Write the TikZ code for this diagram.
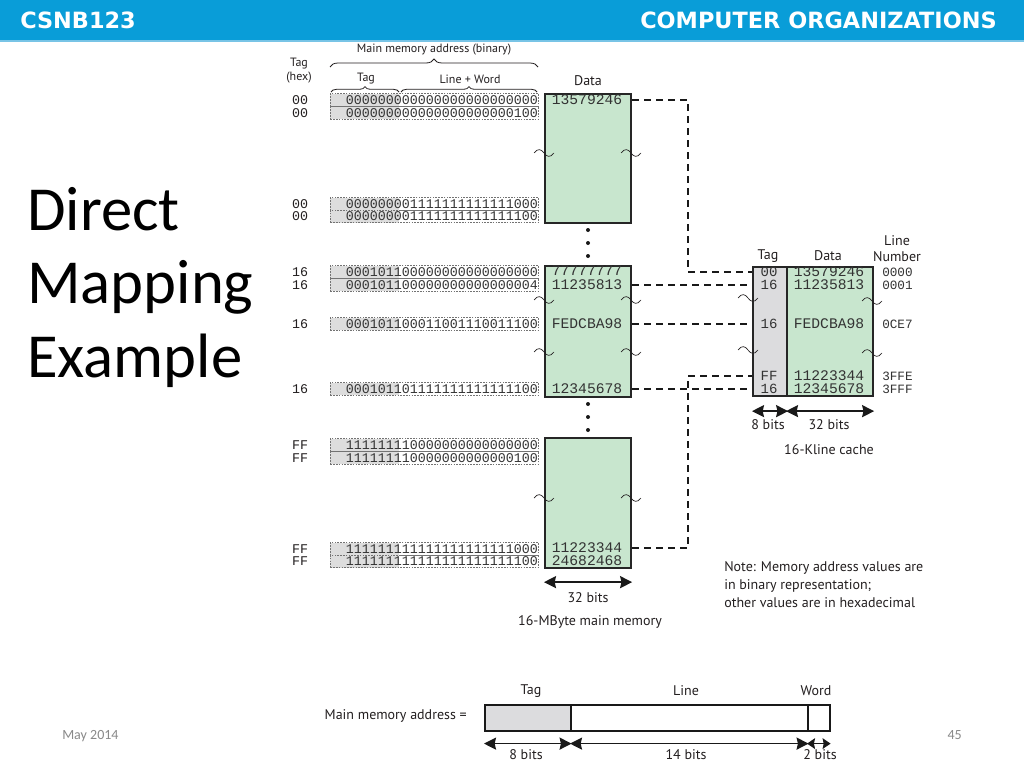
\documentclass[tikz,border=0pt]{standalone}
\usepackage{fontspec}
\setmainfont{PT Sans}
\newfontfamily\hdrfont{DejaVu Sans}
\newfontfamily\ttlfont{Carlito}
\newfontfamily\monofont{Liberation Mono}
\usetikzlibrary{arrows.meta,decorations.pathreplacing}
\definecolor{hdrblue}{RGB}{9,157,216}
\definecolor{hdrlight}{RGB}{120,196,230}
\definecolor{memgreen}{RGB}{200,230,206}
\definecolor{taggray}{RGB}{220,220,222}
\definecolor{stripgray}{RGB}{221,221,221}
\definecolor{footgray}{RGB}{137,137,137}
\definecolor{ink}{RGB}{35,31,32}
\newcommand\addrrow[4]{%
  \fill[stripgray] (330,#2-6.3) rectangle (399,#2+6.3);
  \node[addr] (#1) at (330,#2) {#4};
  \node[hexlbl] (#1h) at (300,#2) {#3};
}
\begin{document}
\begin{tikzpicture}[x=0.75pt,y=-0.75pt,
  lbl/.style={font=\fontsize{10.5}{12}\selectfont, inner sep=0pt, text=ink},
  small/.style={font=\fontsize{9}{10}\selectfont, inner sep=0pt, text=ink},
  hexlbl/.style={font=\monofont\fontsize{10}{10}\selectfont, inner sep=0pt, text=ink},
  addr/.style={draw=black!55, line width=0.5pt, dash pattern=on 1.2pt off 0.9pt,
    font=\monofont\fontsize{10}{10}\selectfont, text=black!80, inner sep=0pt,
    minimum width=156pt, minimum height=9.45pt, text width=155.5pt, align=right, anchor=west},
  val/.style={font=\monofont\fontsize{11}{11}\selectfont, inner sep=0pt, text=black!80},
  tagval/.style={font=\monofont\fontsize{10.5}{11}\selectfont, inner sep=0pt, text=black!80},
  lnval/.style={font=\monofont\fontsize{9.5}{10}\selectfont, inner sep=0pt, text=black!80, anchor=west},
  memblk/.style={draw=black!85, line width=1.6pt, fill=memgreen, minimum width=64.5pt,
    inner sep=0pt, anchor=north west},
  cacheblk/.style={draw=black!85, line width=1.6pt, minimum height=96.75pt, inner sep=0pt, anchor=north west},
  barblk/.style={draw=black!90, line width=1.2pt, minimum height=19.5pt, inner sep=0pt, anchor=north west},
  conn/.style={draw=black!90, line width=1.6pt, dash pattern=on 5.5pt off 3.5pt},
  dim/.style={{Stealth[length=9pt,width=9pt,inset=1pt]}-{Stealth[length=9pt,width=9pt,inset=1pt]}, line width=1.3pt, draw=black!90},
  dimsmall/.style={{Stealth[length=6pt,width=8pt,inset=0.8pt]}-{Stealth[length=6pt,width=8pt,inset=0.8pt]}, line width=1.1pt, draw=black!90},
  brc/.style={decorate, decoration={brace, amplitude=#1}, line width=0.6pt, draw=ink},
  dotm/.style={fill=black!90},
  squig/.pic={\draw[line width=0.5pt, draw=ink] (-10,0) .. controls (-6,-5) and (-3,-4) .. (0,0) .. controls (3,4) and (6,5) .. (10,0);}
]
\useasboundingbox (0,0) rectangle (1024,768);
\fill[white] (0,0) rectangle (1024,768);

% header
\node[fill=hdrblue, minimum width=768pt, minimum height=30pt, inner sep=0pt, anchor=north west] (hdr) at (0,0) {};
\draw[hdrlight, line width=1.5pt] (hdr.south west) -- (hdr.south east);
\node[anchor=base west, inner sep=0pt, text=white, font=\hdrfont\bfseries\fontsize{16.8}{18}\selectfont] (course) at (20,28) {CSNB123};
\node[anchor=base east, inner sep=0pt, text=white, font=\hdrfont\bfseries\fontsize{16.8}{18}\selectfont] (subject) at (997,28) {COMPUTER ORGANIZATIONS};

% title
\node[anchor=base west, inner sep=0pt, font=\ttlfont\fontsize{47}{56}\selectfont] (t1) at (27,230) {Direct};
\node[anchor=base west, inner sep=0pt, font=\ttlfont\fontsize{47}{56}\selectfont] (t2) at (27,303) {Mapping};
\node[anchor=base west, inner sep=0pt, font=\ttlfont\fontsize{47}{56}\selectfont] (t3) at (27,377) {Example};

% footer
\node[anchor=base west, inner sep=0pt, text=footgray, font=\ttlfont\fontsize{10.5}{12}\selectfont] (date) at (62,739) {May 2014};
\node[anchor=base east, inner sep=0pt, text=footgray, font=\ttlfont\fontsize{10.5}{12}\selectfont] (pgno) at (962,739) {45};

% column headings
\node[small] (tagh1) at (299,64) {Tag};
\node[small] (tagh2) at (299,78) {(hex)};
\node[small] (mmab) at (434,50) {Main memory address (binary)};
\draw[brc=6pt] (330,67) -- (538,67);
\node[small] (tagsub) at (366,79) {Tag};
\node[small] (lwsub) at (470,79) {Line + Word};
\draw[brc=4pt] (331,92) -- (399,92);
\draw[brc=4pt] (401,92) -- (537,92);
\node[lbl] (datah) at (588,81) {Data};

% address rows
\addrrow{a1}{100}{00}{000000000000000000000000}
\addrrow{a2}{113}{00}{000000000000000000000100}
\addrrow{a3}{204}{00}{000000001111111111111000}
\addrrow{a4}{216.5}{00}{000000001111111111111100}
\addrrow{a5}{272}{16}{000101100000000000000000}
\addrrow{a6}{285}{16}{000101100000000000000004}
\addrrow{a7}{324}{16}{000101100011001110011100}
\addrrow{a8}{389}{16}{000101101111111111111100}
\addrrow{a9}{445}{FF}{111111110000000000000000}
\addrrow{a10}{458}{FF}{111111110000000000000100}
\addrrow{a11}{549}{FF}{111111111111111111111000}
\addrrow{a12}{561.5}{FF}{111111111111111111111100}

% main memory blocks
\node[memblk, minimum height=96.75pt] (mem1) at (544,93) {};
\node[memblk, minimum height=98.25pt] (mem2) at (544,265) {};
\node[memblk, minimum height=97.5pt] (mem3) at (544,437) {};

\node[val] (m1) at (587,100) {13579246};
\node[val] (m2) at (587,271) {77777777};
\node[val] (m3) at (587,285) {11235813};
\node[val] (m4) at (587,324) {FEDCBA98};
\node[val] (m5) at (587,389) {12345678};
\node[val] (m6) at (587,548) {11223344};
\node[val] (m7) at (587,561) {24682468};

\pic at (544,153) {squig};
\pic at (631,153) {squig};
\pic at (544,300) {squig};
\pic at (631,300) {squig};
\pic at (544,352) {squig};
\pic at (631,352) {squig};
\pic at (544,498) {squig};
\pic at (631,498) {squig};

\foreach \yy in {230,243,256,404,417,430} \fill[dotm] (588,\yy) circle (2);

% cache
\node[cacheblk, fill=taggray, minimum width=25.5pt] (ctag) at (752,266) {};
\node[cacheblk, fill=memgreen, minimum width=64.5pt] (cdata) at (786,266) {};
\node[lbl] (ctagh) at (768,256) {Tag};
\node[lbl] (cdatah) at (828,256) {Data};
\node[lbl] (clnh1) at (897,241) {Line};
\node[lbl] (clnh2) at (897,257) {Number};

\node[tagval] (c1) at (769,272) {00};
\node[tagval] (c2) at (769,285) {16};
\node[tagval] (c3) at (769,324) {16};
\node[tagval] (c4) at (769,376) {FF};
\node[tagval] (c5) at (769,389) {16};
\node[val] (d1) at (829,272) {13579246};
\node[val] (d2) at (829,285) {11235813};
\node[val] (d3) at (829,324) {FEDCBA98};
\node[val] (d4) at (829,376) {11223344};
\node[val] (d5) at (829,389) {12345678};
\node[lnval] (l1) at (882,272) {0000};
\node[lnval] (l2) at (882,285) {0001};
\node[lnval] (l3) at (882,324) {0CE7};
\node[lnval] (l4) at (882,376) {3FFE};
\node[lnval] (l5) at (882,389) {3FFF};

\pic at (748,298) {squig};
\pic at (872,301) {squig};
\pic at (748,350) {squig};
\pic at (872,353) {squig};

% connectors
\coordinate (jx) at (688,0);
\draw[conn] (mem1.east |- m1) -| (jx |- c1) -- (ctag.west |- c1);
\draw[conn] (mem2.east |- m3) -- (ctag.west |- c2);
\draw[conn] (mem2.east |- m4) -- (ctag.west |- c3);
\draw[conn] (mem2.east |- m5) -- (ctag.west |- c5);
\draw[conn] (mem3.east |- m6) -| (jx |- c4) -- (ctag.west |- c4);

% dimensions
\draw[dim] ([yshift=-10.5pt]ctag.south west) -- ([yshift=-10.5pt]ctag.south east);
\draw[dim] ([yshift=-10.5pt]cdata.south west) -- ([yshift=-10.5pt]cdata.south east);
\node[lbl] (cb1) at (768,425) {8 bits};
\node[lbl] (cb2) at (829,425) {32 bits};
\node[lbl] (cname) at (829,450) {16-Kline cache};

\draw[dim] ([yshift=-9.75pt]mem3.south west) -- ([yshift=-9.75pt]mem3.south east);
\node[lbl] (mb) at (588,598) {32 bits};
\node[lbl] (mname) at (590,622) {16-MByte main memory};

\node[lbl, anchor=north west, align=left, font=\fontsize{10.5}{13.5}\selectfont] (note) at (724,561)
  {Note: Memory address values are\\in binary representation;\\other values are in hexadecimal};

% bottom address format
\node[barblk, fill=taggray, minimum width=64.5pt] (btag) at (484,704) {};
\node[barblk, fill=white, minimum width=177.75pt] (bline) at (570,704) {};
\node[barblk, fill=white, minimum width=16.5pt] (bword) at (807,704) {};
\node[lbl, anchor=east] (mmeq) at (467,716) {Main memory address =};
\node[lbl] (bt) at (531,691) {Tag};
\node[lbl] (bl) at (686,691) {Line};
\node[lbl] (bw) at (816,691) {Word};
\draw[dim] ([yshift=-9pt]btag.south west) -- ([yshift=-9pt]btag.south east);
\draw[dim] ([yshift=-9pt]bline.south west) -- ([yshift=-9pt]bline.south east);
\draw[dimsmall] ([yshift=-9pt]bword.south west) -- ([yshift=-9pt]bword.south east);
\node[lbl] (bb1) at (526,755) {8 bits};
\node[lbl] (bb2) at (686,755) {14 bits};
\node[lbl] (bb3) at (820,755) {2 bits};
\end{tikzpicture}
\end{document}
